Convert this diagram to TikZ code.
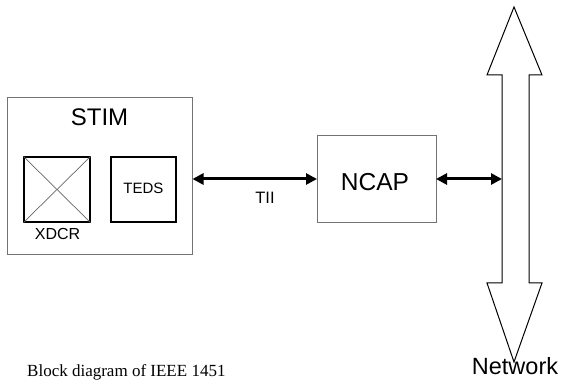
\documentclass[tikz,border=0pt]{standalone}
\usepackage{fontspec}
\setmainfont{Liberation Sans}
\newfontfamily\capfont{Liberation Serif}
\usetikzlibrary{arrows.meta}
\tikzset{
  graybox/.style={draw=black!55, line width=0.9pt, rectangle, inner sep=0pt},
  blackbox/.style={draw=black, line width=1.3pt, rectangle, inner sep=0pt},
  lbl/.style={inner sep=0pt, anchor=base},
  link/.style={line width=3pt, {Triangle[length=11pt,width=11pt]}-{Triangle[length=11pt,width=11pt]}, shorten <=0pt, shorten >=0pt},
}
\begin{document}
\begin{tikzpicture}[x=1pt,y=-1pt]
\useasboundingbox (0,0) rectangle (563,382);
% STIM
\node[graybox, minimum width=185pt, minimum height=157pt] (stim) at (99.5,175.5) {};
\node[lbl, font=\fontsize{24}{24}\selectfont] (stimlbl) at (99.5,126) {STIM};
% XDCR
\node[draw=black, line width=1.1pt, rectangle, inner sep=0pt, minimum width=66pt, minimum height=65pt] (xdcr) at (57,189.5) {};
\draw[black!60, line width=0.7pt] (xdcr.north west) -- (xdcr.south east);
\draw[black!60, line width=0.7pt] (xdcr.south west) -- (xdcr.north east);
\node[lbl, font=\fontsize{16}{16}\selectfont] (xdcrlbl) at (57.5,240) {XDCR};
% TEDS
\node[blackbox, minimum width=65pt, minimum height=65pt] (teds) at (143.5,189.5) {};
\node[lbl, font=\fontsize{15}{15}\selectfont] (tedslbl) at (143.5,194) {TEDS};
% NCAP
\node[graybox, minimum width=119pt, minimum height=87pt] (ncap) at (376.5,178.5) {};
\node[lbl, font=\fontsize{24.5}{24.5}\selectfont] (ncaplbl) at (375,191) {NCAP};
% Network double arrow
\draw[line width=1pt, fill=white] (514,7) -- (542,75) -- (529,75) -- (529,283) -- (542,283) -- (514,362)
  -- (487,283) -- (502,283) -- (502,75) -- (487,75) -- cycle;
\coordinate (netL) at (502,179);
\coordinate (stimR) at (192.5,179);
\coordinate (ncapL) at (317,179);
\coordinate (ncapR) at (436,179);
\node[lbl, font=\fontsize{23.5}{23.5}\selectfont] (netlbl) at (515,374) {Network};
% links
\draw[link] (stimR) -- (ncapL);
\node[lbl, font=\fontsize{16.5}{16.5}\selectfont] (tii) at (265,204) {TII};
\draw[link] (ncapR) -- (netL);
% caption
\node[anchor=base west, inner sep=0pt, font=\capfont\fontsize{17}{17}\selectfont] (cap) at (27,377) {Block diagram of IEEE 1451};
\end{tikzpicture}
\end{document}
